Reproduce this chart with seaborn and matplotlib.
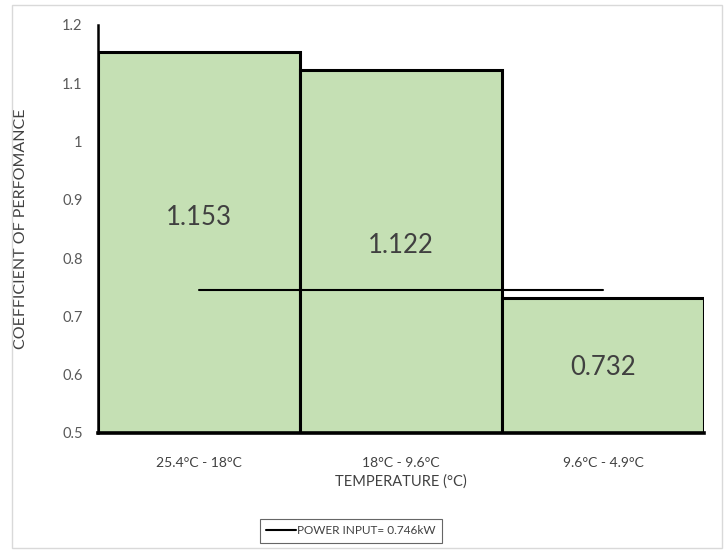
import matplotlib
matplotlib.use("Agg")
import matplotlib.pyplot as plt
import seaborn as sns
import pandas as pd
from matplotlib.patches import Rectangle

# Coefficient of performance per temperature range
categories = ["25.4°C - 18°C", "18°C - 9.6°C", "9.6°C - 4.9°C"]
cop_values = [1.153, 1.122, 0.732]
power_input = [0.746, 0.746, 0.746]
label_heights = [0.870, 0.822, 0.612]
y_ticks = [0.5, 0.6, 0.7, 0.8, 0.9, 1.0, 1.1, 1.2]
y_tick_labels = ["0.5", "0.6", "0.7", "0.8", "0.9", "1", "1.1", "1.2"]

sns.set_theme(style="white")
plt.rcParams["font.family"] = ["Lato", "DejaVu Sans"]

df = pd.DataFrame({"range": categories, "cop": cop_values})

fig = plt.figure(figsize=(7.27, 5.52), dpi=100)
ax = fig.add_axes([98 / 727, 1 - 433 / 552, (704 - 98) / 727, (433 - 25) / 552])

sns.barplot(data=df, x="range", y="cop", order=categories, width=1.0,
            color="#C5E0B4", saturation=1, edgecolor="black", linewidth=2.2, ax=ax)

sns.lineplot(x=[0, 1, 2], y=power_input, color="black", linewidth=1.5, ax=ax,
             label="POWER INPUT= 0.746kW")

for i, (v, h) in enumerate(zip(cop_values, label_heights)):
    ax.text(i, h, f"{v:.3f}", ha="center", va="center", fontsize=18.5, color="#404040")

ax.set_xlim(-0.5, 2.5)
ax.set_ylim(0.5, 1.2)
ax.set_yticks(y_ticks)
ax.set_yticklabels(y_tick_labels, fontsize=10.5, color="#595959")
ax.tick_params(axis="x", labelsize=10, labelcolor="#404040", pad=17.5, length=0)
ax.tick_params(axis="y", pad=11, length=0)
ax.set_xlabel("TEMPERATURE (°C)", fontsize=10.5, color="#404040")
ax.set_ylabel("COEFFICIENT OF PERFOMANCE", fontsize=11.5, color="#404040")
ax.xaxis.set_label_coords(0.5, (433 - 474) / 408)
ax.yaxis.set_label_coords((28 - 98) / 606, 0.5)

for side in ["top", "right"]:
    ax.spines[side].set_visible(False)
ax.spines["left"].set_color("black")
ax.spines["left"].set_linewidth(1.8)
ax.spines["bottom"].set_color("black")
ax.spines["bottom"].set_linewidth(2.6)

leg = ax.legend(loc="center", bbox_to_anchor=((351 - 98) / 606, (433 - 531) / 408),
                frameon=True, fancybox=False, fontsize=8.5, handlelength=2.5,
                handletextpad=0.15, borderpad=0.55, borderaxespad=0,
                labelcolor="#404040")
leg.get_frame().set_edgecolor("#404040")
leg.get_frame().set_linewidth(0.8)

fig.patches.append(Rectangle((12 / 727, 1 - 548 / 552), (722 - 12) / 727, (548 - 5) / 552,
                             transform=fig.transFigure, fill=False,
                             edgecolor="#d9d9d9", linewidth=1))

fig.savefig("out.png", dpi=100)
